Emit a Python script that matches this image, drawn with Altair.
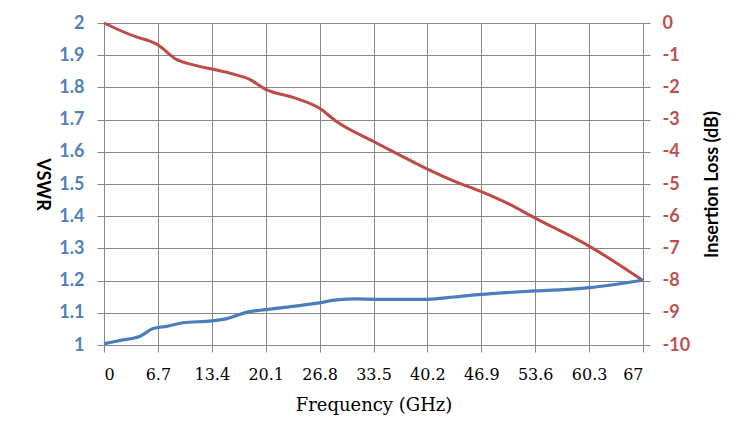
import altair as alt
import pandas as pd

# Data
vswr_freq = [0, 2.0, 4.47, 6.1, 7.8, 9.8, 13.4, 15.3, 17.8, 20.1, 23.5, 26.8, 28.9, 31.4, 33.9, 37.0, 40.2, 43.5, 46.9, 50.3, 53.6, 57.0, 60.3, 63.5, 67]
vswr_vals = [1.004, 1.014, 1.027, 1.051, 1.058, 1.069, 1.075, 1.082, 1.102, 1.110, 1.120, 1.131, 1.140, 1.143, 1.142, 1.142, 1.142, 1.149, 1.157, 1.163, 1.168, 1.172, 1.178, 1.188, 1.201]

il_freq = [0, 4.1, 5.7, 6.5, 9.0, 11.1, 13.4, 16.0, 18.1, 20.1, 23.5, 26.8, 28.9, 33.5, 36.6, 40.2, 43.5, 46.9, 50.3, 53.6, 60.3, 63.5, 67]
il_vals = [0, -0.44, -0.56, -0.65, -1.13, -1.30, -1.43, -1.58, -1.75, -2.06, -2.31, -2.65, -3.06, -3.68, -4.08, -4.54, -4.91, -5.24, -5.62, -6.06, -6.93, -7.42, -8.0]

x_ticks = [0, 6.7, 13.4, 20.1, 26.8, 33.5, 40.2, 46.9, 53.6, 60.3, 67]
vswr_ticks = [1, 1.1, 1.2, 1.3, 1.4, 1.5, 1.6, 1.7, 1.8, 1.9, 2]
il_ticks = [-10, -9, -8, -7, -6, -5, -4, -3, -2, -1, 0]

df_v = pd.DataFrame({"f": vswr_freq, "v": vswr_vals})
df_i = pd.DataFrame({"f": il_freq, "v": il_vals})

GRID = "#878787"
BLUE = "#4A7EBB"
RED = "#BE4B48"

x_enc = alt.X(
    "f:Q",
    scale=alt.Scale(domain=[0, 67], nice=False),
    axis=alt.Axis(
        values=x_ticks,
        labelExpr="'' + datum.value",
        title="Frequency (GHz)",
        titleFont="DejaVu Serif",
        titleFontSize=18,
        titleFontWeight="normal",
        titleColor="#000000",
        titlePadding=14,
        labelFont="DejaVu Serif",
        labelFontSize=16,
        labelColor="#000000",
        labelPadding=14,
        grid=True,
        gridColor=GRID,
        gridOpacity=1,
        tickColor=GRID,
        tickSize=7,
        domain=False,
    ),
)

vswr_line = alt.Chart(df_v).mark_line(color=BLUE, strokeWidth=3.2, interpolate="monotone").encode(
    x=x_enc,
    y=alt.Y(
        "v:Q",
        scale=alt.Scale(domain=[1, 2], nice=False, zero=False),
        axis=alt.Axis(
            orient="left",
            values=vswr_ticks,
            labelExpr="'' + datum.value",
            title="VSWR",
            titleAngle=90,
            titleX=-63,
            titleY=161,
            titleAlign="center",
            titleBaseline="middle",
            titleFont="Lato",
            titleFontSize=18,
            titleFontWeight="bold",
            titleColor="#000000",
            labelFont="Lato",
            labelFontSize=18,
            labelFontWeight="bold",
            labelColor="#4F81BD",
            labelPadding=13,
            grid=True,
            gridColor=GRID,
            gridOpacity=1,
            tickColor=GRID,
            tickSize=7,
            domain=False,
        ),
    ),
)

il_line = alt.Chart(df_i).mark_line(color=RED, strokeWidth=3.0, interpolate="monotone").encode(
    x=alt.X("f:Q"),
    y=alt.Y(
        "v:Q",
        scale=alt.Scale(domain=[-10, 0], nice=False, zero=False),
        axis=alt.Axis(
            orient="right",
            values=il_ticks,
            labelExpr="'' + datum.value",
            title="Insertion Loss (dB)",
            titleAngle=270,
            titleX=69,
            titleY=161,
            titleAlign="center",
            titleBaseline="middle",
            titleFont="Lato",
            titleFontSize=18,
            titleFontWeight="bold",
            titleColor="#000000",
            labelFont="Lato",
            labelFontSize=18,
            labelFontWeight="bold",
            labelColor="#C0504D",
            labelPadding=12,
            grid=False,
            tickColor=GRID,
            tickSize=7,
            domain=False,
        ),
    ),
)

chart = (
    alt.layer(il_line, vswr_line)
    .resolve_scale(y="independent")
    .properties(
        width=539,
        height=322,
        autosize=alt.AutoSizeParams(type="none"),
        padding={"left": 96, "top": 15, "right": 97, "bottom": 91},
        background="#ffffff",
    )
    .configure_view(stroke=None)
)

chart.save("out.html", embed_options={"renderer": "svg", "actions": False})
